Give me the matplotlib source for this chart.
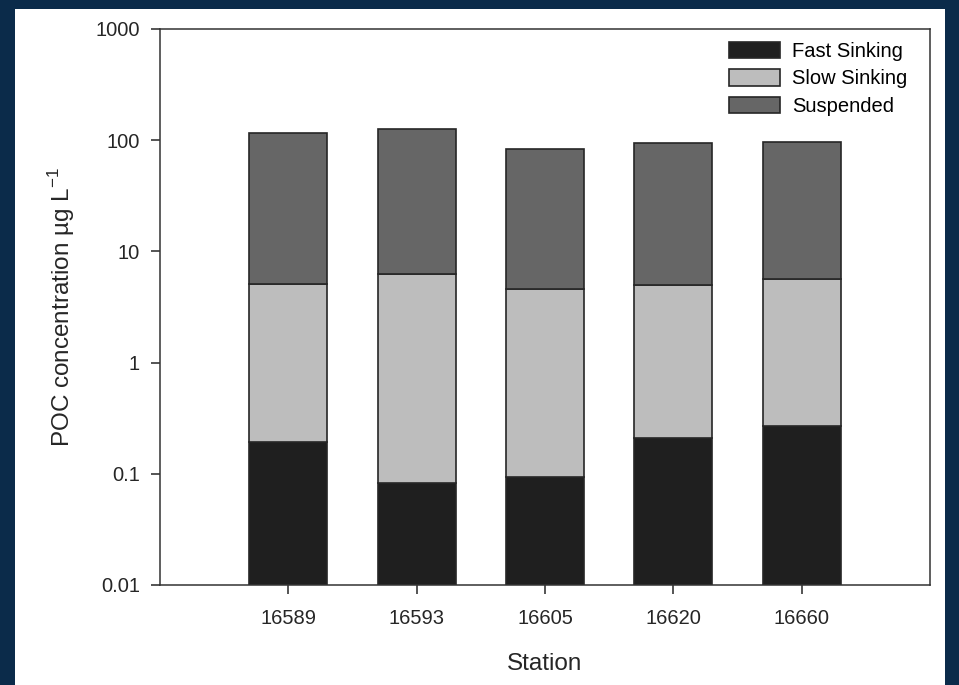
import numpy as np
import matplotlib.pyplot as plt
from matplotlib.patches import Rectangle

plt.rcParams['font.family'] = ['Liberation Sans', 'DejaVu Sans']
plt.rcParams['mathtext.fontset'] = 'custom'
plt.rcParams['mathtext.rm'] = 'Liberation Sans'

stations = ['16589', '16593', '16605', '16620', '16660']
# cumulative tops of each stacked segment (ug/L)
fast_top = [0.194, 0.083, 0.094, 0.21, 0.27]
slow_top = [5.05, 6.2, 4.55, 4.98, 5.6]
susp_top = [116, 126, 83, 95, 97]

W, H = 959, 685
fig = plt.figure(figsize=(W / 100, H / 100), dpi=100, facecolor='#0b2b4a')
# white slide panel inside the blue frame
fig.patches.append(Rectangle((15 / W, 0), 930 / W, 676 / H, transform=fig.transFigure,
                             facecolor='white', edgecolor='none', zorder=-10))

ax = fig.add_axes([160 / W, 1 - 585 / H, 770 / W, 556 / H])
ax.set_facecolor('white')

x = np.arange(1, len(stations) + 1)
base = 0.01
edge = '#262626'
ax.bar(x, np.array(fast_top) - base, bottom=base, width=0.61, color='#1f1f1f',
       edgecolor=edge, linewidth=1.2, label='Fast Sinking')
ax.bar(x, np.array(slow_top) - np.array(fast_top), bottom=fast_top, width=0.61,
       color='#bdbdbd', edgecolor=edge, linewidth=1.2, label='Slow Sinking')
ax.bar(x, np.array(susp_top) - np.array(slow_top), bottom=slow_top, width=0.61,
       color='#666666', edgecolor=edge, linewidth=1.2, label='Suspended')

ax.set_yscale('log')
ax.set_ylim(0.01, 1000)
ax.set_xlim(0, 6)
ax.set_yticks([0.01, 0.1, 1, 10, 100, 1000])
ax.set_yticklabels(['0.01', '0.1', '1', '10', '100', '1000'])
ax.minorticks_off()
ax.set_xticks(x)
ax.set_xticklabels(stations)
ax.tick_params(direction='out', length=6.5, width=1.1, labelsize=14.5, colors='#262626', pad=8)
ax.tick_params(axis='x', pad=11)

for s in ax.spines.values():
    s.set_linewidth(1.1)
    s.set_color('#333333')

ax.set_xlabel('Station', fontsize=17.5, labelpad=18, color='#262626')
ax.set_ylabel('POC concentration \u00b5g L$^{-1}$', fontsize=17.5, labelpad=13, color='#262626')

ax.legend(loc='upper left', frameon=False, fontsize=14.5, handlelength=2.55, handleheight=0.85,
          labelspacing=0.42, handletextpad=0.6, borderaxespad=0, borderpad=0,
          bbox_to_anchor=(729 / W, 1 - 42 / H), bbox_transform=fig.transFigure)

fig.savefig('out.png', dpi=100, facecolor=fig.get_facecolor())
